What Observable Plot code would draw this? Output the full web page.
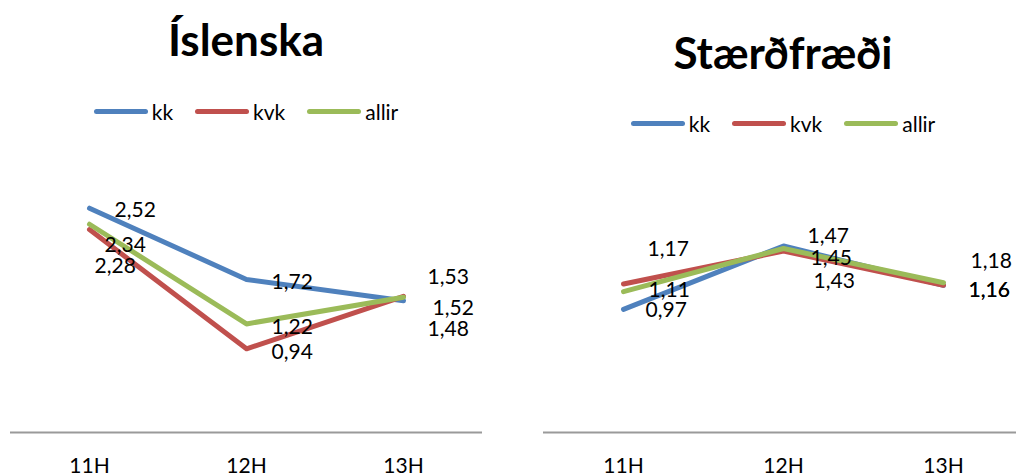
<!DOCTYPE html>
<html>
<head>
<meta charset="utf-8">
<script src="https://cdn.jsdelivr.net/npm/d3@7"></script>
<script src="https://cdn.jsdelivr.net/npm/@observablehq/plot@0.6"></script>
<style>
  html, body { margin: 0; padding: 0; background: #fff; }
  body { width: 1016px; height: 476px; overflow: hidden; font-family: Lato, "Open Sans", sans-serif; color: #000; }
  #wrap { display: flex; width: 1016px; height: 476px; }
  .panel { position: relative; width: 508px; height: 476px; overflow: hidden; }
  .title { font-weight: bold; font-size: 44px; text-align: center; width: 508px; line-height: 1; white-space: nowrap; }
  .legend { display: flex; justify-content: center; align-items: center; width: 508px; font-size: 21px; }
  .legend .item { display: flex; align-items: center; margin: 0 11px; }
  .legend .sw { display: inline-block; width: 54px; height: 5px; border-radius: 3px; margin-right: 4px; }
  svg { display: block; overflow: visible; }
</style>
</head>
<body>
<div id="wrap"></div>
<script>
// ---- data ----
const categories = ["11H", "12H", "13H"];
const seriesNames = ["kk", "kvk", "allir"];
const islenskaKk = [2.52, 1.72, 1.48];
const islenskaKvk = [2.28, 0.94, 1.53];
const islenskaAllir = [2.34, 1.22, 1.52];
const staerdfraediKk = [0.97, 1.47, 1.16];
const staerdfraediKvk = [1.17, 1.43, 1.16];
const staerdfraediAllir = [1.11, 1.45, 1.18];
const titles = ["Íslenska", "Stærðfræði"];

// ---- styling ----
const colors = {kk: "#4F81BD", kvk: "#C0504D", allir: "#9BBB59"};
// label nudges [dx, dy] per series and category (pixels, styling only)
const nudgeLeft = {
  kk:    [[25, 2], [25, 3], [24, 28]],
  kvk:   [[5, 37], [25, 3], [24, -19]],
  allir: [[15, 21], [25, 3], [29, 11]]
};
const nudgeRight = {
  kk:    [[22, 1], [24, -10], [25, 5]],
  kvk:   [[24, -35], [30, 30], [25, 5]],
  allir: [[25, -1], [27, 10], [27, -22]]
};

function rows(kk, kvk, allir) {
  const out = [];
  const s = {kk, kvk, allir};
  for (const name of seriesNames) {
    categories.forEach((c, i) => out.push({series: name, cat: c, i, value: s[name][i]}));
  }
  return out;
}
const fmt = v => v.toFixed(2).replace(".", ",");

function panel(cfg) {
  const div = document.createElement("div");
  div.className = "panel";
  const t = document.createElement("div");
  t.className = "title";
  t.textContent = cfg.title;
  t.style.paddingTop = cfg.titleTop + "px";
  t.style.height = cfg.titleH + "px";
  t.style.boxSizing = "border-box";
  t.style.transform = `translateX(${cfg.cx - 254}px)`;
  div.appendChild(t);
  const lg = document.createElement("div");
  lg.className = "legend";
  lg.style.transform = `translateX(${cfg.cx - 254}px)`;
  lg.style.height = cfg.legendH + "px";
  for (const name of seriesNames) {
    const it = document.createElement("span");
    it.className = "item";
    const sw = document.createElement("span");
    sw.className = "sw";
    sw.style.background = colors[name];
    it.appendChild(sw);
    it.appendChild(document.createTextNode(name));
    lg.appendChild(it);
  }
  div.appendChild(lg);

  const data = cfg.data;
  const chart = Plot.plot({
    width: 508,
    height: cfg.height,
    marginLeft: cfg.marginLeft,
    marginRight: cfg.marginRight,
    marginTop: 10,
    marginBottom: 44,
    style: {fontFamily: "Lato, 'Open Sans', sans-serif", fontSize: "21px", color: "#000", background: "transparent"},
    x: {type: "point", domain: categories, range: cfg.xRange, padding: 0, axis: null},
    y: {domain: cfg.yDomain, range: cfg.yRange, axis: null},
    marks: [
      Plot.ruleY([0], {stroke: "#9a9a9a", strokeWidth: 2}),
      Plot.text(categories, {x: d => d, y: () => 0, dy: 26, lineAnchor: "top",
        fontSize: 21, fontWeight: "normal", fill: "#000"}),
      ...seriesNames.map(name => Plot.line(data.filter(d => d.series === name), {
        x: "cat", y: "value", stroke: colors[name], strokeWidth: 5,
        strokeLinecap: "round", strokeLinejoin: "round"
      })),
      ...data.map(d => Plot.text([d], {
        x: "cat", y: "value", text: r => fmt(r.value), textAnchor: "start",
        dx: cfg.nudge[d.series][d.i][0], dy: cfg.nudge[d.series][d.i][1],
        fontSize: 21, fill: "#000"
      }))
    ]
  });
  div.appendChild(chart);
  return div;
}

const wrap = document.getElementById("wrap");
wrap.appendChild(panel({
  title: titles[0], titleTop: 17, titleH: 88, legendH: 46, cx: 246,
  height: 342, marginLeft: 10, marginRight: 26,
  xRange: [88, 403], yDomain: [0, 3], yRange: [298, 31],
  data: rows(islenskaKk, islenskaKvk, islenskaAllir), nudge: nudgeLeft
}));
wrap.appendChild(panel({
  title: titles[1], titleTop: 30, titleH: 100, legendH: 46, cx: 275,
  height: 330, marginLeft: 35, marginRight: 0,
  xRange: [115, 435], yDomain: [0, 1.6], yRange: [286, 83],
  data: rows(staerdfraediKk, staerdfraediKvk, staerdfraediAllir), nudge: nudgeRight
}));
</script>
</body>
</html>
